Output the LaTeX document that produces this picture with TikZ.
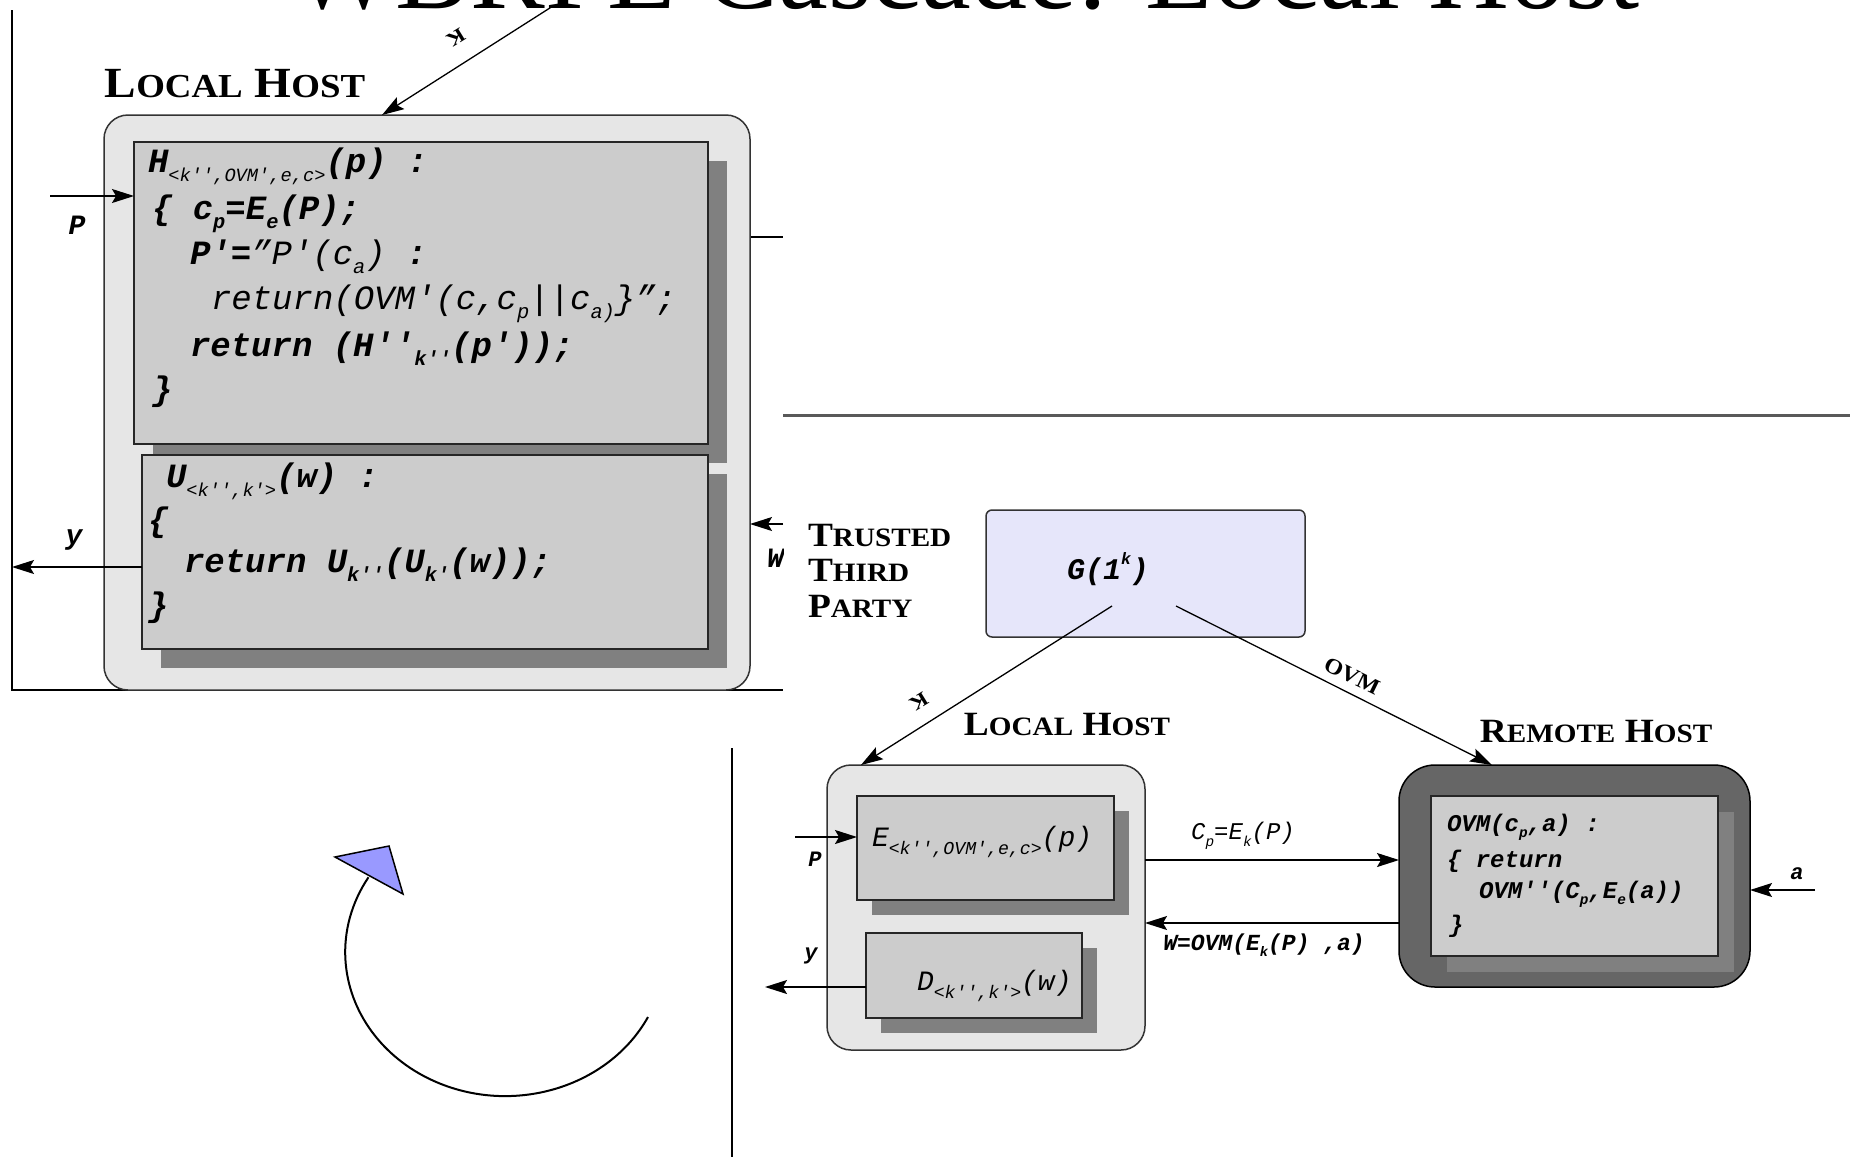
\documentclass[tikz,border=0pt]{standalone}
\usepackage{fontspec}
\usetikzlibrary{arrows.meta,shadows,calc}
\newfontfamily\cour{Liberation Mono}
\newfontfamily\ttlf{Liberation Serif}
\newfontfamily\scf[FakeStretch=1.1]{Liberation Serif}
\definecolor{lgray}{HTML}{E6E6E6}
\definecolor{mgray}{HTML}{CCCCCC}
\definecolor{sgray}{HTML}{808080}
\definecolor{dgray}{HTML}{666666}
\definecolor{lav}{HTML}{E6E6FA}
\definecolor{trif}{HTML}{9999FF}
\newcommand\dn[2][0.6]{\raisebox{-0.55ex}{\scalebox{#1}{#2}}}
\newcommand\upx[1]{\raisebox{0.9ex}{\scalebox{0.55}{#1}}}
\newcommand\smc[2]{#1\scalebox{0.78}{#2}}
\newcommand\fs[1]{\fontsize{#1}{#1}\selectfont}
\tikzset{
  every node/.style={inner sep=0pt, outer sep=0pt},
  code/.style={anchor=base west, font=\cour\bfseries\itshape},
  lbl/.style={font=\scf\bfseries},
  ln/.style={line width=1.3pt},
  arr/.style={line width=1.3pt, -{Stealth[length=22pt,width=14pt,inset=4pt]}},
  host/.style={draw=black!80, line width=1.5pt, fill=lgray, rounded corners=24pt, anchor=north west},
  func/.style={draw=black!85, line width=1.5pt, fill=mgray, anchor=north west,
    drop shadow={shadow xshift=#1, shadow yshift=-#1, fill=sgray, opacity=1}},
}
\begin{document}
\begin{tikzpicture}[x=1pt,y=-1pt]
\useasboundingbox (0,0) rectangle (1860,1157);
\clip (0,0) rectangle (1860,1157);
\fill[white] (0,0) rectangle (1860,1157);

% title (cut off at top)
\node[anchor=base west, font=\ttlf\fs{112}] (title) at (290,8) {WBRPE Cascade: Local Host};

% ---------- top-left panel ----------
\begin{scope}
\clip (0,0) rectangle (783,700);
\draw[ln] (12,10) -- (12,690) -- (783,690);
\draw[ln] (750,237) -- (783,237);
\node[host, minimum width=646pt, minimum height=575pt] (tlh) at (104,115) {};
\node[func=19pt, minimum width=574pt, minimum height=302pt] (hb) at (134,142) {};
\node[func=19pt, minimum width=566pt, minimum height=194pt] (ub) at (142,455) {};
\node[lbl, font=\scf\bfseries\fs{43}, anchor=base] (tlhl) at (235,97) {\smc{L}{OCAL} \smc{H}{OST}};

\node[code, font=\cour\bfseries\itshape\fs{34}] (h1) at (148,172) {H\dn[0.55]{\mdseries <k'',OVM',e,c>}(p) :};
\node[code, font=\cour\bfseries\itshape\fs{34}] (h2) at (152,219) {\{ c\dn{p}=E\dn{e}(P);};
\node[code, font=\cour\bfseries\itshape\fs{34}] (h3) at (190,264) {P'={\mdseries ”P'(c\dn{a})} :};
\node[code, font=\cour\itshape\fs{34}] (h4) at (211,309) {return(OVM'(c,c\dn{p}||c\dn{a)}\}”;};
\node[code, font=\cour\bfseries\itshape\fs{34}] (h5) at (190,356) {return (H''\dn{k''}(p'));};
\node[code, font=\cour\bfseries\itshape\fs{34}] (h6) at (152,400) {\}};

\node[code, font=\cour\bfseries\itshape\fs{34}] (u1) at (166,487) {U\dn[0.55]{\mdseries <k'',k'>}(w) :};
\node[code, font=\cour\bfseries\itshape\fs{34}] (u2) at (148,531) {\{};
\node[code, font=\cour\bfseries\itshape\fs{34}] (u3) at (184,572) {return U\dn{k''}(U\dn{k'}(w));};
\node[code, font=\cour\bfseries\itshape\fs{34}] (u4) at (148,616) {\}};

\coordinate (ktl) at (553,6);
\coordinate (ktltip) at ($(tlh.north west)+(278,0)$);
\draw[arr] (ktl) -- (ktltip);
\node[font=\scf\bfseries\fs{26}, rotate=211.6] (ktll) at (456,38) {\scalebox{0.78}{K}};

\coordinate (pin1) at (50,196);
\draw[arr] (pin1) -- (hb.west |- pin1);
\node[font=\cour\bfseries\itshape\fs{28}] (p1l) at (77,225) {P};
\coordinate (yout1) at (12,567);
\draw[arr] (ub.west |- yout1) -- (yout1);
\node[font=\cour\bfseries\itshape\fs{28}] (y1l) at (74,540) {y};
\coordinate (win1) at (783,524);
\draw[arr] (win1) -- (tlh.east |- win1);
\node[font=\cour\bfseries\itshape\fs{28}, anchor=west] (w1l) at (767,558) {W};
\end{scope}

% ---------- dividers ----------
\draw[line width=3pt, black!65] (783,415) -- (1850,415);
\draw[ln] (732,748) -- (732,1157);

% ---------- circular arrow ----------
\draw[line width=2pt] (648,1017) arc[start angle=26.8, end angle=211.3, x radius=160, y radius=144];
\filldraw[fill=trif, draw=black, line width=1.5pt, line join=miter] (335,857) -- (389,846) -- (403,894) -- cycle;

% ---------- bottom-right diagram ----------
\node[lbl, font=\scf\bfseries\fs{34}, anchor=base west] (ttp1) at (808,546) {\smc{T}{RUSTED}};
\node[lbl, font=\scf\bfseries\fs{34}, anchor=base west] (ttp2) at (808,581) {\smc{T}{HIRD}};
\node[lbl, font=\scf\bfseries\fs{34}, anchor=base west] (ttp3) at (808,617) {\smc{P}{ARTY}};

\node[draw=black!80, line width=1.5pt, fill=lav, rounded corners=6pt, anchor=north west,
      minimum width=319pt, minimum height=127pt] (gb) at (986,510) {};
\node[font=\cour\bfseries\itshape\fs{30}] (gt) at (1108,569) {G(1\upx{k})};

\node[host, minimum width=318pt, minimum height=285pt] (lh) at (827,765) {};
\node[func=15pt, minimum width=257pt, minimum height=104pt] (eb) at (857,796) {};
\node[func=15pt, minimum width=216pt, minimum height=85pt] (db) at (866,933) {};
\node[code, font=\cour\itshape\fs{28}] (et) at (872,846) {E\dn[0.65]{<k'',OVM',e,c>}(p)};
\node[code, font=\cour\itshape\fs{28}] (dt) at (917,990) {D\dn[0.65]{<k'',k'>}(w)};

\node[draw=black, line width=1.5pt, fill=dgray, rounded corners=36pt, anchor=north west,
      minimum width=351pt, minimum height=222pt] (rh) at (1399,765) {};
\node[func=16pt, minimum width=287pt, minimum height=160pt] (ob) at (1431,796) {};
\node[code, font=\cour\bfseries\itshape\fs{24}] (o1) at (1447,831) {OVM(c\dn{p},a) :};
\node[code, font=\cour\bfseries\itshape\fs{24}] (o2) at (1447,867) {\{ return};
\node[code, font=\cour\bfseries\itshape\fs{24}] (o3) at (1479,898) {OVM''(C\dn{p},E\dn{e}(a))};
\node[code, font=\cour\bfseries\itshape\fs{24}] (o4) at (1449,932) {\}};

\node[lbl, font=\scf\bfseries\fs{34}, anchor=base] (lhl) at (1067,735) {\smc{L}{OCAL} \smc{H}{OST}};
\node[lbl, font=\scf\bfseries\fs{34}, anchor=base] (rhl) at (1596,742) {\smc{R}{EMOTE} \smc{H}{OST}};

\coordinate (gk) at (1112,606);
\coordinate (go) at (1176,606);
\draw[arr] (gk) -- ($(lh.north west)+(34,0)$);
\draw[arr] (go) -- ($(rh.north west)+(93,0)$);
\node[font=\scf\bfseries\fs{26}, rotate=211.7] (kl) at (919,702) {\scalebox{0.78}{K}};
\node[font=\scf\bfseries\fs{22}, rotate=-26.1] (ovml) at (1352,676) {OVM};

\draw[arr] ($(lh.north east)+(0,95)$) -- ($(rh.north west)+(0,95)$);
\node[font=\cour\itshape\fs{24}] (cpl) at (1243,836) {C\dn{p}=E\dn{k}(P)};
\draw[arr] ($(rh.north west)+(0,158)$) -- ($(lh.north east)+(0,158)$);
\node[font=\cour\bfseries\itshape\fs{23}] (wl) at (1264,945) {W=OVM(E\dn{k}(P) ,a)};

\coordinate (pin2) at (795,837);
\draw[arr] (pin2) -- (eb.west |- pin2);
\node[font=\cour\bfseries\itshape\fs{22}] (p2l) at (815,859) {P};
\coordinate (yout2) at (765,987);
\draw[arr] (db.west |- yout2) -- (yout2);
\node[font=\cour\bfseries\itshape\fs{22}] (y2l) at (811,956) {y};
\coordinate (ain) at (1815,890);
\draw[arr] (ain) -- (rh.east |- ain);
\node[font=\cour\bfseries\itshape\fs{22}] (al) at (1797,874) {a};
\end{tikzpicture}
\end{document}
